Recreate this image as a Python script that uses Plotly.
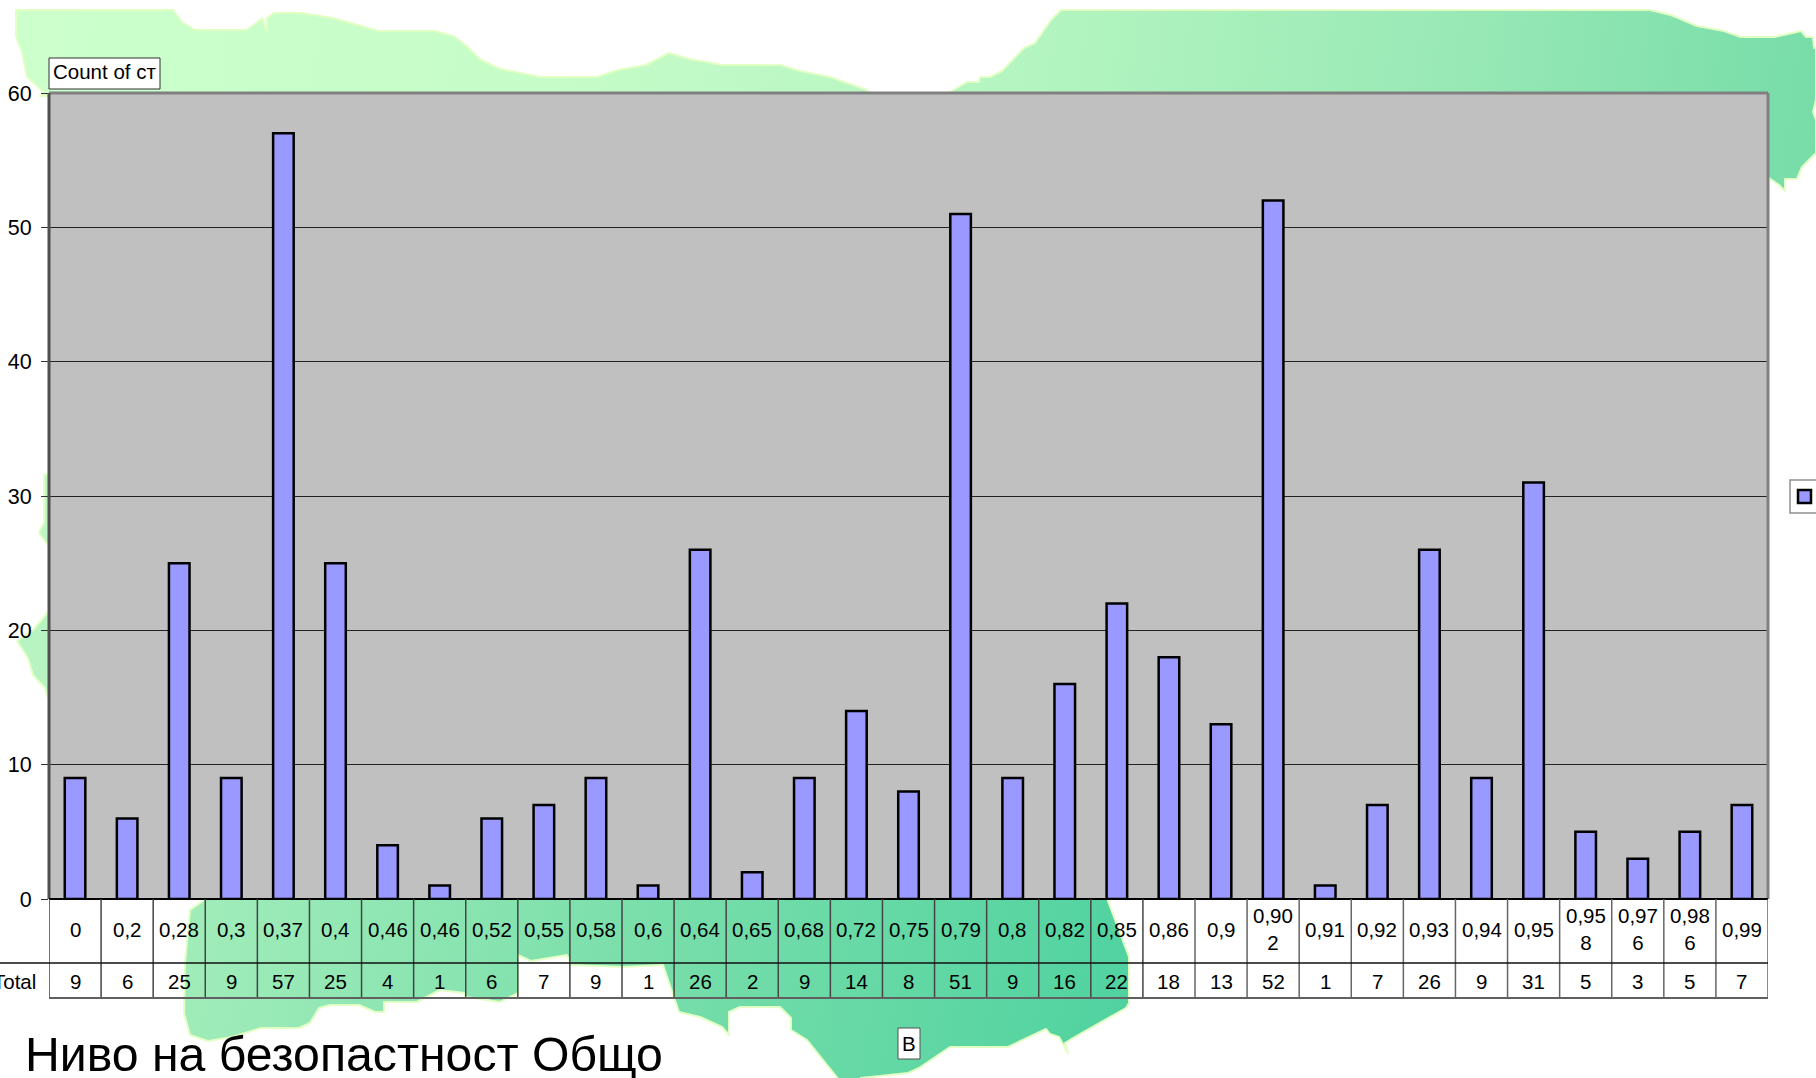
import base64
import plotly.graph_objects as go

# ---- chart data ----
categories = ["0", "0,2", "0,28", "0,3", "0,37", "0,4", "0,46", "0,46", "0,52", "0,55", "0,58",
              "0,6", "0,64", "0,65", "0,68", "0,72", "0,75", "0,79", "0,8", "0,82", "0,85",
              "0,86", "0,9", "0,90<br>2", "0,91", "0,92", "0,93", "0,94", "0,95", "0,95<br>8",
              "0,97<br>6", "0,98<br>6", "0,99"]
totals = [9, 6, 25, 9, 57, 25, 4, 1, 6, 7, 9, 1, 26, 2, 9, 14, 8, 51, 9, 16, 22, 18, 13, 52, 1,
          7, 26, 9, 31, 5, 3, 5, 7]
y_ticks = [0, 10, 20, 30, 40, 50, 60]
title_text = "Ниво на безопастност Общо"
field_label = "Count of ст"
row_label = "Total"
x_field_label = "B"

W, H = 1816, 1078
L, R, T, B = 49, 1768, 93, 899
ROW1, ROW2 = 963, 998
FONT = "Liberation Sans"
n = len(categories)
xpos = list(range(n))


def px(x):
    return (x - L) / (R - L)


def py(y):
    return (B - y) / (B - T)


# ---- decorative background map ----
top_poly = [(16, 10), (173, 10), (182, 22), (195, 30), (246, 30), (255, 24), (262, 18), (267, 32), (267, 18),
            (274, 13), (301, 13), (333, 18), (379, 31), (435, 31), (453, 36), (462, 42), (481, 60), (500, 69), (540, 77),
            (597, 77), (618, 70), (646, 65), (669, 53), (689, 59), (723, 65), (780, 65), (800, 71), (830, 77),
            (867, 90), (873, 96), (950, 96), (950, 92), (967, 82), (979, 82), (980, 77), (990, 77), (1002, 71),
            (1024, 48), (1035, 43), (1051, 20), (1061, 10), (1650, 10), (1671, 15), (1697, 26),
            (1724, 31), (1741, 37), (1774, 37), (1801, 31), (1806, 37), (1813, 37), (1814, 48), (1816, 48),
            (1816, 100), (1813, 112), (1816, 120), (1816, 153), (1802, 167), (1797, 179), (1785, 179), (1785, 191),
            (1779, 185), (1769, 178), (1760, 178), (1760, 96), (40, 96), (46, 94), (27, 77), (22, 52), (16, 37)]
left_poly1 = [(52, 473), (44, 475), (44, 522), (39, 533), (48, 545), (52, 545)]
left_poly2 = [(52, 609), (48, 612), (33, 630), (17, 641), (28, 658), (33, 675), (45, 688), (48, 698), (52, 698)]
bottom_poly = [(203, 895), (203, 901), (190, 910), (185, 963), (184, 1013), (190, 1035), (208, 1041), (232, 1037),
               (261, 1028), (286, 1028), (299, 1028), (310, 1023), (319, 1008), (330, 1005), (359, 1005), (375, 1012),
               (384, 1012), (384, 1002), (417, 1002), (440, 990), (464, 993), (466, 997), (500, 1002), (518, 993),
               (518, 955), (531, 961), (567, 955), (571, 965), (623, 967), (663, 965), (679, 1012), (700, 1017),
               (722, 1027), (729, 1035), (729, 1012), (740, 1007), (780, 1007), (791, 1018), (791, 1030), (807, 1040),
               (847, 1090), (861, 1078), (908, 1073), (919, 1068), (950, 1047), (1008, 1047), (1046, 1029), (1050, 1034),
               (1059, 1037), (1068, 1053), (1065, 1043), (1073, 1038), (1126, 1008), (1129, 1003), (1129, 957),
               (1108, 901), (1108, 895)]


def pts(p):
    return " ".join(f"{a},{b}" for a, b in p)


svg = f'''<svg xmlns="http://www.w3.org/2000/svg" width="{W}" height="{H}" viewBox="0 0 {W} {H}">
<defs>
<linearGradient id="t" gradientUnits="userSpaceOnUse" x1="0" y1="0" x2="1816" y2="250">
<stop offset="0" stop-color="#ccffcc"/><stop offset="0.3" stop-color="#c6fcc8"/>
<stop offset="0.58" stop-color="#b2f4c0"/><stop offset="0.8" stop-color="#97e8b5"/>
<stop offset="1" stop-color="#75dca8"/></linearGradient>
<linearGradient id="b" gradientUnits="userSpaceOnUse" x1="180" y1="880" x2="1130" y2="1060">
<stop offset="0" stop-color="#a2edba"/><stop offset="0.5" stop-color="#78deaa"/>
<stop offset="1" stop-color="#4fd2a0"/></linearGradient>
</defs>
<g stroke="#e2ffc4" stroke-width="2" stroke-linejoin="round">
<polygon points="{pts(top_poly)}" fill="url(#t)"/>
<polygon points="{pts(left_poly1)}" fill="#bff6c6"/>
<polygon points="{pts(left_poly2)}" fill="#b8f3c2"/>
<polygon points="{pts(bottom_poly)}" fill="url(#b)"/>
</g></svg>'''
src = "data:image/svg+xml;base64," + base64.b64encode(svg.encode()).decode()

fig = go.Figure(go.Bar(x=xpos, y=totals, width=0.395, marker=dict(color="#9999ff", line=dict(color="#000000", width=2.5)),
                       showlegend=False))

shapes = []


def rect(x0, y0, x1, y1, fill="rgba(0,0,0,0)", line="#000000", w=1, layer="above"):
    shapes.append(dict(type="rect", xref="paper", yref="paper", x0=px(x0), x1=px(x1), y0=py(y0), y1=py(y1),
                       fillcolor=fill, line=dict(color=line, width=w), layer=layer))


def seg(x0, y0, x1, y1, color="#000000", w=1):
    shapes.append(dict(type="line", xref="paper", yref="paper", x0=px(x0), x1=px(x1), y0=py(y0), y1=py(y1),
                       line=dict(color=color, width=w), layer="above"))


rect(L, T, R, B, fill="#c0c0c0", line="rgba(0,0,0,0)", w=0, layer="below")
seg(L, T, R, T, "#808080", 3)
seg(R, T, R, B, "#808080", 3)
seg(L, T, L, B, "#505050", 3)
seg(L, B, R, B, "#000000", 2)

# table grid, placed with the x axis scale
for i in range(n + 1):
    c = "#444444" if i < 22 else "#666666"
    shapes.append(dict(type="line", xref="x", yref="paper", x0=i - 0.5, x1=i - 0.5, y0=py(B), y1=py(ROW2),
                       line=dict(color=c, width=1.5), layer="above"))
seg(0, ROW1, R, ROW1, "#111111", 1.5)
seg(L, ROW2, R, ROW2, "#606060", 2)

# field buttons and legend
rect(49, 58, 160, 89, fill="#ffffff", line="#303030", w=1)
rect(898, 1028, 920, 1059, fill="#ffffff", line="#505050", w=1)
rect(1790, 480, 1830, 513, fill="#ffffff", line="#909090", w=1.5)
rect(1798, 490, 1811, 503, fill="#9999ff", line="#000000", w=2.5)

ann = []
for i, (c, t) in enumerate(zip(categories, totals)):
    ann.append(dict(x=i, xref="x", y=py(929), yref="paper", text=c, showarrow=False, xanchor="center", yanchor="middle"))
    ann.append(dict(x=i, xref="x", y=py(981), yref="paper", text=str(t), showarrow=False, xanchor="center", yanchor="middle"))
ann.append(dict(x=px(38), xref="paper", y=py(981), yref="paper", text=row_label, showarrow=False, xanchor="right", yanchor="middle"))
ann.append(dict(x=px(104.5), xref="paper", y=py(72), yref="paper", text=field_label, showarrow=False, xanchor="center", yanchor="middle"))
ann.append(dict(x=px(909), xref="paper", y=py(1043), yref="paper", text=x_field_label, showarrow=False, xanchor="center", yanchor="middle"))
ann.append(dict(x=px(23), xref="paper", y=py(1054), yref="paper", text=title_text, showarrow=False, xanchor="left", yanchor="middle",
                font=dict(size=48.2, family=FONT, color="#000000")))

fig.update_layout(
    width=W, height=H, margin=dict(l=L, r=W - R, t=T, b=H - B, pad=0, autoexpand=False),
    paper_bgcolor="#ffffff", plot_bgcolor="rgba(0,0,0,0)",
    font=dict(family=FONT, size=20.5, color="#000000"),
    shapes=shapes, annotations=ann,
    images=[dict(source=src, xref="paper", yref="paper", x=px(0), y=py(0), sizex=W / (R - L), sizey=H / (B - T),
                 sizing="stretch", xanchor="left", yanchor="top", layer="below")],
    xaxis=dict(range=[-0.5, n - 0.5], showticklabels=False, showgrid=False, zeroline=False, ticks="", fixedrange=True,
               automargin=False),
    yaxis=dict(range=[0, 60], tickvals=y_ticks, showgrid=True, gridcolor="#222222", gridwidth=1, zeroline=False,
               ticks="outside", ticklen=7, tickcolor="#333333", tickwidth=1, ticklabelstandoff=5, showline=False,
               tickfont=dict(size=21.5, family=FONT, color="#000000"), fixedrange=True, automargin=False),
)
fig.write_html("out.html", config=dict(displayModeBar=False), post_script="document.body.style.margin='0';")
